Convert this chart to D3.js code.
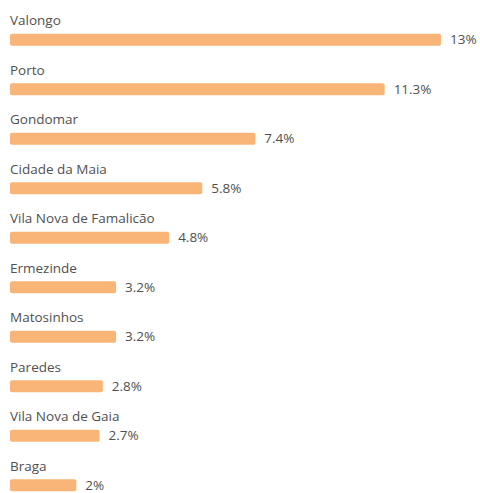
<!DOCTYPE html>
<html><head><meta charset="utf-8">
<script src="https://cdn.jsdelivr.net/npm/d3@7"></script>
<style>html,body{margin:0;padding:0;background:#fff;}</style>
</head><body>
<svg id="c" width="480" height="493"></svg>
<script>
const categories = ["Valongo","Porto","Gondomar","Cidade da Maia","Vila Nova de Famalicão","Ermezinde","Matosinhos","Paredes","Vila Nova de Gaia","Braga"];
const values = [13, 11.3, 7.4, 5.8, 4.8, 3.2, 3.2, 2.8, 2.7, 2];
const valueLabels = ["13%","11.3%","7.4%","5.8%","4.8%","3.2%","3.2%","2.8%","2.7%","2%"];

const svg = d3.select("#c");
const x = d3.scaleLinear().domain([0, 13]).range([10, 441]);
const y = d3.scaleBand().domain(categories).range([33.7, 33.7 + 49.5 * 10]).paddingInner(0);
const barH = 12;
const font = "'Open Sans', sans-serif";

const g = svg.selectAll("g.row").data(categories).join("g").attr("class","row");
g.append("text")
  .attr("x", 10)
  .attr("y", d => y(d) - 8.5)
  .attr("font-family", font).attr("font-size", 13.5)
  .attr("fill", "#505050")
  .text(d => d);
g.append("rect")
  .attr("x", x(0))
  .attr("y", d => y(d))
  .attr("width", (d,i) => x(values[i]) - x(0))
  .attr("height", barH)
  .attr("rx", 2)
  .attr("fill", "#F9B577");
g.append("text")
  .attr("x", (d,i) => x(values[i]) + 9)
  .attr("y", d => y(d) + barH/2 + 4.5)
  .attr("font-family", font).attr("font-size", 13.5)
  .attr("fill", "#505050")
  .text((d,i) => valueLabels[i]);
</script>
</body></html>
